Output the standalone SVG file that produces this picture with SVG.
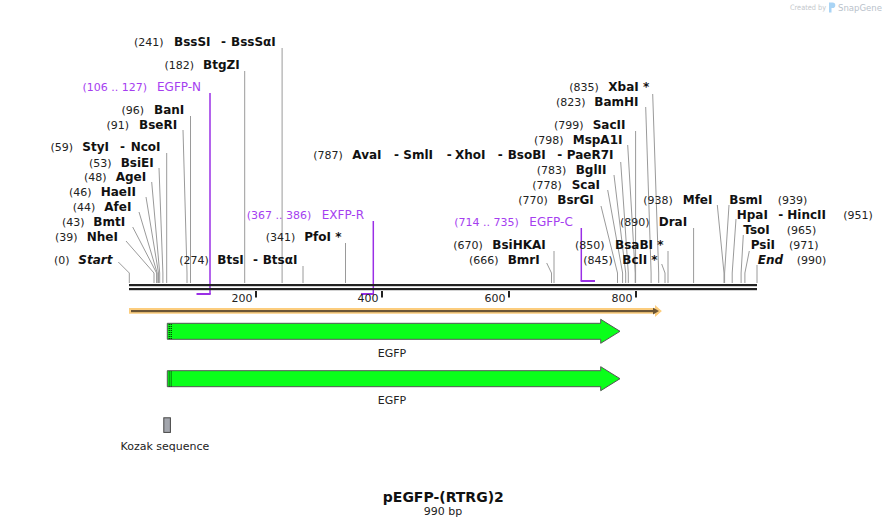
<svg xmlns="http://www.w3.org/2000/svg" width="887" height="528" viewBox="0 0 887 528">
<style>
text{font-family:"DejaVu Sans","Liberation Sans",sans-serif}
.n{font-size:11px;fill:#222}
.e{font-size:12px;font-weight:bold;fill:#111}
.i{font-style:italic}
.p{font-size:12px;fill:#a53ef0}
.pn{font-size:11px;fill:#a53ef0}
.ln{stroke:#9a9a9a;stroke-width:1;fill:none}
.pl{stroke:#9a2fe6;stroke-width:1.5;fill:none}
.pb{stroke:#9a2fe6;stroke-width:2;fill:none}
.tick{fill:#222}
.tl{font-size:11px;fill:#222;text-anchor:end}
.fl{font-size:11px;fill:#222;text-anchor:middle}
.arrow{fill:#0aff1a;stroke:#555;stroke-width:1}
</style>
<rect width="887" height="528" fill="#fff"/>

<!-- watermark -->
<g id="watermark">
<text x="790" y="10" font-size="7.5" fill="#c4c8cc" textLength="36" lengthAdjust="spacingAndGlyphs">Created by</text>
<path d="M829,2.5 h3.5 a2.8,2.8 0 0 1 0,5.6 h-1 v4.4 h-2.5z" fill="#a9d4f5"/>
<text x="838" y="11" font-size="9" fill="#b9c2cb" textLength="44" lengthAdjust="spacingAndGlyphs">SnapGene</text>
</g>

<!-- connectors -->
<g id="connectors">
<path class="ln" d="M282.1,48V283"/>
<path class="ln" d="M244.7,71V283"/>
<path class="ln" d="M190.5,116V283"/>
<path class="ln" d="M183,130L187,273V283"/>
<path class="ln" d="M166.7,153V283"/>
<path class="ln" d="M159,168L162.9,273V283"/>
<path class="ln" d="M151.7,182L159.7,273V283"/>
<path class="ln" d="M146,197L158.5,273V283"/>
<path class="ln" d="M139,212L157.2,273V283"/>
<path class="ln" d="M132.7,227L156.6,273V283"/>
<path class="ln" d="M126,241L154,273V283"/>
<path class="ln" d="M118.3,262L129.3,273V283"/>
<path class="ln" d="M303,266V283"/>
<path class="ln" d="M345.5,243V283"/>
<path class="ln" d="M554,251V283"/>
<path class="ln" d="M546.7,263L551.5,273V283"/>
<path class="ln" d="M652.7,94L658.7,273V283"/>
<path class="ln" d="M645.7,107L651.1,273V283"/>
<path class="ln" d="M635.6,131V283"/>
<path class="ln" d="M627.7,145L635.2,273V283"/>
<path class="ln" d="M620.7,162L628.3,273V283"/>
<path class="ln" d="M614,175L625.7,273V283"/>
<path class="ln" d="M607.7,190L622.6,273V283"/>
<path class="ln" d="M601,206L617.5,273V283"/>
<path class="ln" d="M668,251V283"/>
<path class="ln" d="M661.7,264L665,273V283"/>
<path class="ln" d="M693.6,228V283"/>
<path class="ln" d="M717.3,205L724,273V283"/>
<path class="ln" d="M729,205L724.6,273V283"/>
<path class="ln" d="M736,219L732.2,273V283"/>
<path class="ln" d="M743.3,235L741.1,273V283"/>
<path class="ln" d="M749.3,251L744.9,273V283"/>
<path class="ln" d="M757,265V283"/>
<!-- primers -->
<path class="pl" d="M210,93V294"/>
<path class="pb" d="M196.5,294H210.7"/>
<path class="pl" d="M373.3,221V294"/>
<path class="pb" d="M361,294H374"/>
<path class="pl" d="M581.3,228V281"/>
<path class="pb" d="M580.6,281H595"/>
</g>

<!-- ruler -->
<g id="ruler">
<rect x="129" y="284" width="628" height="2.2" fill="#222"/>
<rect x="129" y="288" width="628" height="2.2" fill="#222"/>
<rect class="tick" x="255" y="291" width="2" height="6.5"/>
<rect class="tick" x="381" y="291" width="2" height="6.5"/>
<rect class="tick" x="508" y="291" width="2" height="6.5"/>
<rect class="tick" x="635" y="291" width="2" height="6.5"/>
<text class="tl" x="252.5" y="302">200</text>
<text class="tl" x="378.5" y="302">400</text>
<text class="tl" x="505.5" y="302">600</text>
<text class="tl" x="632.5" y="302">800</text>
</g>

<!-- enzyme labels -->
<g id="BssSI"><text y="46"><tspan class="n" x="134">(241)</tspan><tspan class="e" x="174">BssSI</tspan><tspan class="e" x="221">-</tspan><tspan class="e" x="231">BssSαI</tspan></text></g>
<g id="BtgZI"><text y="69"><tspan class="n" x="164.5">(182)</tspan><tspan class="e" x="203">BtgZI</tspan></text></g>
<g id="EGFP-N"><text y="91"><tspan class="pn" x="82.5">(106 .. 127)</tspan><tspan class="p" x="157">EGFP-N</tspan></text></g>
<g id="BanI"><text y="114"><tspan class="n" x="121.5">(96)</tspan><tspan class="e" x="154">BanI</tspan></text></g>
<g id="BseRI"><text y="129"><tspan class="n" x="106.5">(91)</tspan><tspan class="e" x="139">BseRI</tspan></text></g>
<g id="StyI"><text y="151"><tspan class="n" x="50.5">(59)</tspan><tspan class="e" x="82.3">StyI</tspan><tspan class="e" x="120">-</tspan><tspan class="e" x="130.7">NcoI</tspan></text></g>
<g id="BsiEI"><text y="166.5"><tspan class="n" x="89">(53)</tspan><tspan class="e" x="120.7">BsiEI</tspan></text></g>
<g id="AgeI"><text y="181"><tspan class="n" x="84">(48)</tspan><tspan class="e" x="115.7">AgeI</tspan></text></g>
<g id="HaeII"><text y="196"><tspan class="n" x="69">(46)</tspan><tspan class="e" x="100.7">HaeII</tspan></text></g>
<g id="AfeI"><text y="211"><tspan class="n" x="72.7">(44)</tspan><tspan class="e" x="104.3">AfeI</tspan></text></g>
<g id="BmtI"><text y="226"><tspan class="n" x="62">(43)</tspan><tspan class="e" x="93.3">BmtI</tspan></text></g>
<g id="NheI"><text y="241"><tspan class="n" x="55">(39)</tspan><tspan class="e" x="86.7">NheI</tspan></text></g>
<g id="Start"><text y="263.5"><tspan class="n" x="54">(0)</tspan><tspan class="e i" x="78.3">Start</tspan></text></g>
<g id="BtsI"><text y="263.5"><tspan class="n" x="179.3">(274)</tspan><tspan class="e" x="217.3">BtsI</tspan><tspan class="e" x="253">-</tspan><tspan class="e" x="262.7">BtsαI</tspan></text></g>
<g id="EXFP-R"><text y="219"><tspan class="pn" x="246.7">(367 .. 386)</tspan><tspan class="p" x="321.7">EXFP-R</tspan></text></g>
<g id="PfoI"><text y="241"><tspan class="n" x="265.7">(341)</tspan><tspan class="e" x="304.3">PfoI *</tspan></text></g>

<g id="AvaI"><text y="158.5"><tspan class="n" x="313.3">(787)</tspan><tspan class="e" x="352.3">AvaI</tspan><tspan class="e" x="394">-</tspan><tspan class="e" x="403.3">SmlI</tspan><tspan class="e" x="446.7">-</tspan><tspan class="e" x="455">XhoI</tspan><tspan class="e" x="497.7">-</tspan><tspan class="e" x="507.7">BsoBI</tspan><tspan class="e" x="557.3">-</tspan><tspan class="e" x="566.7">PaeR7I</tspan></text></g>
<g id="XbaI"><text y="91"><tspan class="n" x="569.3">(835)</tspan><tspan class="e" x="608.3">XbaI *</tspan></text></g>
<g id="BamHI"><text y="106"><tspan class="n" x="556">(823)</tspan><tspan class="e" x="594.3">BamHI</tspan></text></g>
<g id="SacII"><text y="129"><tspan class="n" x="554">(799)</tspan><tspan class="e" x="592.7">SacII</tspan></text></g>
<g id="MspA1I"><text y="144"><tspan class="n" x="534">(798)</tspan><tspan class="e" x="572.7">MspA1I</tspan></text></g>
<g id="BglII"><text y="174"><tspan class="n" x="536.7">(783)</tspan><tspan class="e" x="575.7">BglII</tspan></text></g>
<g id="ScaI"><text y="188.5"><tspan class="n" x="532.3">(778)</tspan><tspan class="e" x="571.7">ScaI</tspan></text></g>
<g id="BsrGI"><text y="203.5"><tspan class="n" x="518.3">(770)</tspan><tspan class="e" x="557.3">BsrGI</tspan></text></g>
<g id="EGFP-C"><text y="226"><tspan class="pn" x="454.3">(714 .. 735)</tspan><tspan class="p" x="529.3">EGFP-C</tspan></text></g>
<g id="BsiHKAI"><text y="248.5"><tspan class="n" x="453.3">(670)</tspan><tspan class="e" x="492.3">BsiHKAI</tspan></text></g>
<g id="BmrI"><text y="263.5"><tspan class="n" x="469">(666)</tspan><tspan class="e" x="507.7">BmrI</tspan></text></g>
<g id="BsaBI"><text y="248.5"><tspan class="n" x="575">(850)</tspan><tspan class="e" x="615">BsaBI *</tspan></text></g>
<g id="BclI"><text y="263.5"><tspan class="n" x="583.3">(845)</tspan><tspan class="e" x="622.3">BclI *</tspan></text></g>
<g id="DraI"><text y="226"><tspan class="n" x="620">(890)</tspan><tspan class="e" x="658.7">DraI</tspan></text></g>
<g id="MfeI"><text y="204"><tspan class="n" x="643.3">(938)</tspan><tspan class="e" x="682.7">MfeI</tspan></text></g>
<g id="BsmI"><text y="204"><tspan class="e" x="729.3">BsmI</tspan><tspan class="n" x="777.7">(939)</tspan></text></g>
<g id="HpaI"><text y="218.5"><tspan class="e" x="736.7">HpaI</tspan><tspan class="e" x="778.3">-</tspan><tspan class="e" x="787.3">HincII</tspan><tspan class="n" x="843.3">(951)</tspan></text></g>
<g id="TsoI"><text y="233.5"><tspan class="e" x="743.3">TsoI</tspan><tspan class="n" x="786.7">(965)</tspan></text></g>
<g id="PsiI"><text y="248.5"><tspan class="e" x="750.7">PsiI</tspan><tspan class="n" x="789">(971)</tspan></text></g>
<g id="End"><text y="263.5"><tspan class="e i" x="757.7">End</tspan><tspan class="n" x="796.7">(990)</tspan></text></g>

<!-- orange region -->
<g id="region">
<path d="M129,308H655L661.7,311L655,316.7V313.7H129Z" fill="#fccd7e"/>
<path d="M655,305L661.7,311L655,316.7Z" fill="#fccd7e"/>
<rect x="131" y="310" width="524" height="2.2" fill="#6b5535"/>
<path d="M653,307.8L659,311.1L653,314.4Z" fill="#6b5535"/>
</g>

<!-- features -->
<g id="EGFP-1">
<path class="arrow" d="M167.3,323.3H600.7V319.3L620,331.3L600.7,343.3V339.3H167.3Z"/>
<line x1="169.2" y1="324" x2="169.2" y2="339" stroke="#000" stroke-dasharray="1,1"/>
<line x1="171.2" y1="324" x2="171.2" y2="339" stroke="#000" stroke-dasharray="1,1"/>
<text class="fl" x="392" y="357">EGFP</text>
</g>
<g id="EGFP-2">
<path class="arrow" d="M167.3,370.7H600.7V366.7L620,378.7L600.7,390.7V386.7H167.3Z"/>
<line x1="169.2" y1="371.5" x2="169.2" y2="386.5" stroke="#000" stroke-dasharray="1,1"/>
<line x1="171.2" y1="371.5" x2="171.2" y2="386.5" stroke="#000" stroke-dasharray="1,1"/>
<text class="fl" x="392" y="404">EGFP</text>
</g>
<g id="Kozak">
<rect x="163.8" y="417.8" width="6.6" height="14.6" fill="#a3a6ad" stroke="#444" stroke-width="1"/>
<text class="fl" x="165" y="450" font-size="11.8">Kozak sequence</text>
</g>

<!-- title -->
<g id="title">
<text x="443.3" y="502" text-anchor="middle" font-size="14" font-weight="bold" fill="#111">pEGFP-(RTRG)2</text>
<text x="443" y="514.5" text-anchor="middle" font-size="11" fill="#222">990 bp</text>
</g>
</svg>
